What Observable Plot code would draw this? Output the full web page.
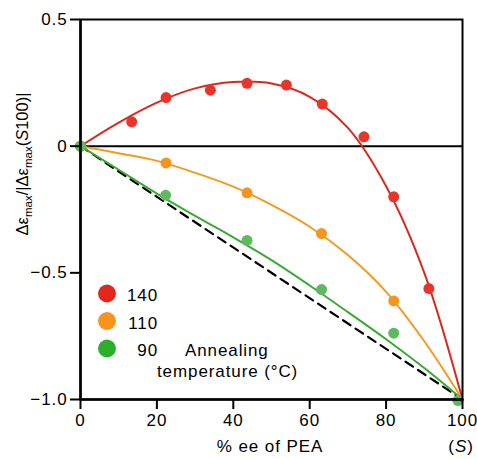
<!DOCTYPE html>
<html>
<head>
<meta charset="utf-8">
<script src="https://cdn.jsdelivr.net/npm/d3@7"></script>
<script src="https://cdn.jsdelivr.net/npm/@observablehq/plot@0.6"></script>
<style>
  html, body { margin: 0; padding: 0; background: #fff; }
</style>
</head>
<body>
<div id="chart"></div>
<script>
// ---- data ----
const xTicks = [0, 20, 40, 60, 80, 100];
const yTicks = [0.5, 0, -0.5, -1.0];
const yTickLabels = ["0.5", "0", "\u22120.5", "\u22121.0"];

const temps = ["140", "110", "90"];

// measured points
const x140 = [0, 13.4, 22.4, 34, 43.6, 53.9, 63.3, 74.2, 82, 91.2];
const y140 = [0, 0.096, 0.192, 0.221, 0.248, 0.241, 0.166, 0.037, -0.2, -0.562];
const x110 = [0, 22.4, 43.6, 63.1, 82];
const y110 = [0, -0.066, -0.184, -0.345, -0.611];
const x90 = [0, 22.3, 43.6, 63.1, 82, 98.8];
const y90 = [0, -0.194, -0.372, -0.566, -0.738, -1.004];

// fitted curves
const fitX = [0, 10, 20, 30, 40, 50, 60, 70, 80, 90, 100];
const fit140 = [0, 0.093, 0.172, 0.228, 0.253, 0.247, 0.195, 0.072, -0.158, -0.5, -1];
const fit110 = [0, -0.028, -0.058, -0.105, -0.16, -0.232, -0.318, -0.43, -0.575, -0.77, -1];
const fit90 = [0, -0.093, -0.187, -0.275, -0.36, -0.45, -0.55, -0.655, -0.762, -0.876, -1];

// ideal (linear) reference
const dashX = [0, 100];
const dashY = [0, -1];

// ---- build tables ----
const pts = (xs, ys) => xs.map((x, i) => ({x, y: ys[i]}));
const p140 = pts(x140, y140), p110 = pts(x110, y110), p90 = pts(x90, y90);
const f140 = pts(fitX, fit140), f110 = pts(fitX, fit110), f90 = pts(fitX, fit90);
const dash = pts(dashX, dashY);

const dotColors = {"140": "#e8352b", "110": "#f7941d", "90": "#5fba5f"};
const lineColors = {"140": "#d9291f", "110": "#f39a1f", "90": "#3aaa35"};
const legendColors = {"140": "#e5261d", "110": "#f7941e", "90": "#2caf2a"};

const svg = Plot.plot({
  width: 477,
  height: 459,
  marginLeft: 80,
  marginRight: 15,
  marginTop: 19,
  marginBottom: 60,
  style: {
    fontFamily: "'Liberation Sans', Arial, Helvetica, sans-serif",
    fontSize: "17px",
    letterSpacing: "0.9px",
    background: "#fff",
    color: "#000"
  },
  x: {domain: [0, 100]},
  y: {domain: [-1, 0.5]},
  marks: [
    Plot.ruleY([0], {stroke: "#000", strokeWidth: 2}),
    Plot.line(dash, {x: "x", y: "y", stroke: "#000", strokeWidth: 2.2, strokeDasharray: "9,6"}),
    Plot.line(f140, {x: "x", y: "y", stroke: lineColors["140"], strokeWidth: 2, curve: "catmull-rom"}),
    Plot.line(f110, {x: "x", y: "y", stroke: lineColors["110"], strokeWidth: 2, curve: "catmull-rom"}),
    Plot.line(f90, {x: "x", y: "y", stroke: lineColors["90"], strokeWidth: 2, curve: "catmull-rom"}),
    Plot.dot(p140, {x: "x", y: "y", r: 5.5, fill: dotColors["140"]}),
    Plot.dot(p110, {x: "x", y: "y", r: 5.5, fill: dotColors["110"]}),
    Plot.dot(p90, {x: "x", y: "y", r: 5.5, fill: dotColors["90"]}),
    Plot.frame({stroke: "#000", strokeWidth: 2}),
    Plot.ruleX([0], {stroke: "#000", strokeWidth: 2.5}),
    Plot.ruleY([-1], {stroke: "#000", strokeWidth: 2.5}),
    Plot.axisX({ticks: xTicks, tickSize: 10, tickPadding: 4, strokeWidth: 2, label: null}),
    Plot.axisY({ticks: yTicks, tickSize: 10, tickPadding: 3, strokeWidth: 2, label: null,
      tickFormat: (d) => yTickLabels[yTicks.indexOf(d)]})
  ]
});

document.getElementById("chart").appendChild(svg);

// ---- text annotations and legend ----
const s = d3.select(svg);
const font = "'Liberation Sans', Arial, Helvetica, sans-serif";
const addText = (x, y, anchor, size, spacing) => s.append("text")
  .attr("x", x).attr("y", y)
  .attr("text-anchor", anchor)
  .style("font-family", font)
  .style("font-size", size + "px")
  .style("letter-spacing", spacing + "px")
  .attr("fill", "#000");

// y-axis label
const yl = s.append("text")
  .attr("transform", "translate(28,164) rotate(-90)")
  .attr("text-anchor", "middle")
  .style("font-family", font)
  .style("font-size", "16.5px")
  .style("letter-spacing", "0px")
  .attr("fill", "#000");
yl.append("tspan").text("\u0394\u03b5");
yl.append("tspan").attr("dy", 3.5).style("font-size", "11.5px").text("max");
yl.append("tspan").attr("dy", -3.5).text("/|\u0394\u03b5");
yl.append("tspan").attr("dy", 3.5).style("font-size", "11.5px").text("max");
yl.append("tspan").attr("dy", -3.5).text("(");
yl.append("tspan").style("font-style", "italic").text("S");
yl.append("tspan").text("100)|");

// x-axis title
addText(270, 452, "middle", 17, 0.9).text("% ee of PEA");
const sx = addText(461, 452, "middle", 17, 0.9);
sx.append("tspan").text("(");
sx.append("tspan").style("font-style", "italic").text("S");
sx.append("tspan").text(")");

// legend
const legendRows = [293.5, 321, 348.5];
temps.forEach((t, i) => {
  s.append("circle")
    .attr("cx", 107).attr("cy", legendRows[i]).attr("r", 9)
    .attr("fill", legendColors[t]);
  addText(158, legendRows[i] + 7.5, "end", 17, 0.9).text(t);
});
addText(185, 356, "start", 17, 0.9).text("Annealing");
addText(157, 377, "start", 17, 0.9).text("temperature (\u00b0C)");
</script>
</body>
</html>
